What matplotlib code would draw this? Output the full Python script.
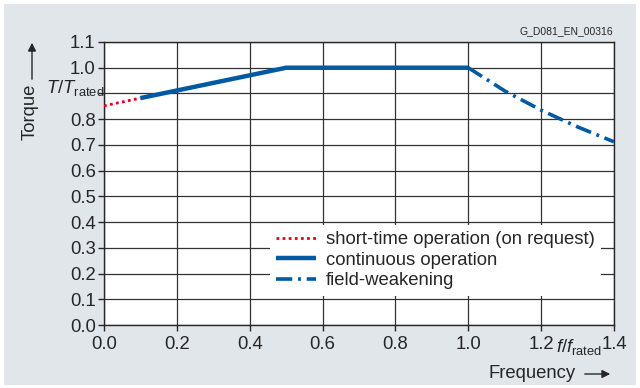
import matplotlib.pyplot as plt
from matplotlib.patches import Rectangle, FancyArrowPatch

plt.rcParams['font.family'] = ['Liberation Sans', 'DejaVu Sans']
plt.rcParams['mathtext.fontset'] = 'custom'
plt.rcParams['mathtext.rm'] = 'Liberation Sans'
plt.rcParams['mathtext.it'] = 'Liberation Sans:italic'

# data
short_f = [0.0, 0.1]
short_t = [0.852, 0.882]
cont_f = [0.1, 0.5, 1.0]
cont_t = [0.882, 1.0, 1.0]
weak_f = [1.0, 1.1, 1.2, 1.3, 1.4]
weak_t = [1.0, 0.91, 0.835, 0.77, 0.712]

x_ticks = [0.0, 0.2, 0.4, 0.6, 0.8, 1.0, 1.2, 1.4]
y_ticks = [0.0, 0.1, 0.2, 0.3, 0.4, 0.5, 0.6, 0.7, 0.8, 0.9, 1.0, 1.1]
y_labels = ["0.0", "0.1", "0.2", "0.3", "0.4", "0.5", "0.6", "0.7", "0.8", "", "1.0", "1.1"]

blue = "#0059a3"
red = "#e2001a"
dark = "#262626"
bg = "#e1e6ea"
fs = 13.3

fig = plt.figure(figsize=(6.4, 3.88), dpi=100, facecolor="white")
fig.patches.append(Rectangle((4 / 640, 3 / 388), 632 / 640, 381 / 388,
                             transform=fig.transFigure, facecolor=bg,
                             edgecolor="none", zorder=-10))

ax = fig.add_axes([104 / 640, 63 / 388, 510 / 640, 283 / 388])
ax.set_facecolor("white")

ax.plot(short_f, short_t, color=red, lw=2, linestyle=(0, (1, 1.2)),
        label="short-time operation (on request)", zorder=3)
ax.plot(cont_f, cont_t, color=blue, lw=3.2, solid_capstyle="butt",
        label="continuous operation", zorder=3)
ax.plot(weak_f, weak_t, color=blue, lw=2.6, linestyle=(0, (4.5, 1.6, 0.8, 1.6)),
        label="field-weakening", zorder=3)

ax.set_xlim(0, 1.4)
ax.set_ylim(0, 1.1)
ax.set_xticks(x_ticks)
ax.set_xticklabels([f"{v:.1f}" for v in x_ticks])
ax.set_yticks(y_ticks)
ax.set_yticklabels(y_labels)
ax.grid(True, color="#333333", lw=0.9)
ax.set_axisbelow(True)
for s in ax.spines.values():
    s.set_color(dark)
    s.set_linewidth(1)
ax.tick_params(axis="both", direction="out", length=4, width=1, color=dark,
               labelsize=fs, labelcolor=dark, pad=2)
ax.tick_params(axis="x", pad=4)

leg = ax.legend(loc="upper left", bbox_to_anchor=(0.325, 0.355), fontsize=fs,
                frameon=True, fancybox=False, framealpha=1, borderaxespad=0,
                handlelength=2.15, handletextpad=0.55, labelspacing=0.2,
                borderpad=0.35)
leg.get_frame().set_edgecolor("none")
leg.get_frame().set_facecolor("white")
for t in leg.get_texts():
    t.set_color(dark)

# axis labels with arrows
fig.text(30 / 640, 1 - 112 / 388, "Torque", rotation=90, ha="center",
         va="center", fontsize=fs, color=dark)
fig.add_artist(FancyArrowPatch(
    (32 / 640, 1 - 82 / 388), (32 / 640, 1 - 40 / 388),
    transform=fig.transFigure, arrowstyle="-|>", mutation_scale=12,
    color=dark, lw=1))
fig.text(46 / 640, 1 - 88 / 388, r"$T/T_{\mathrm{rated}}$", ha="left",
         va="center", fontsize=fs, color=dark)

fig.text(576 / 640, 1 - 374 / 388, "Frequency", ha="right", va="center",
         fontsize=fs, color=dark)
fig.add_artist(FancyArrowPatch(
    (582 / 640, 1 - 374 / 388), (613 / 640, 1 - 374 / 388),
    transform=fig.transFigure, arrowstyle="-|>", mutation_scale=12,
    color=dark, lw=1))
fig.text(556 / 640, 1 - 347 / 388, r"$f/f_{\mathrm{rated}}$", ha="left",
         va="center", fontsize=fs, color=dark)

fig.text(613 / 640, 1 - 31 / 388, "G_D081_EN_00316", ha="right", va="center",
         fontsize=7.5, color=dark)

fig.savefig("out.png", dpi=100, facecolor=fig.get_facecolor())
